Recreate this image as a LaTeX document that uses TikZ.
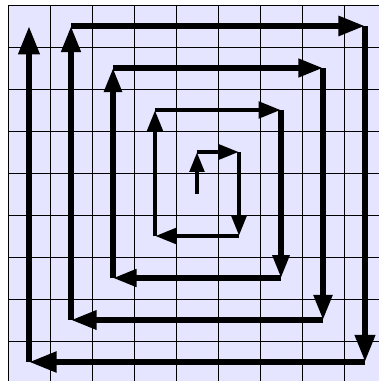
\documentclass[tikz,border=0pt]{standalone}
\usepackage{tikz}
\usetikzlibrary{arrows.meta}

\begin{document}
\begin{tikzpicture}[
    cellfill/.style={fill=blue!10},
    gridline/.style={draw=black, line width=0.5pt},
    turn/.style={-{Triangle[length=0pt 4.5, width=0pt 3.2]}}
]
\useasboundingbox (-0.19,0.048) rectangle (8.83,9.119);

% Board
\fill[cellfill] (0,0) rectangle (9,9);
\draw[gridline] (0,0) grid (9,9);

% Corners of the spiral
\foreach \px/\py [count=\i from 0] in {4.5/4.5, 4.5/5.5, 5.5/5.5, 5.5/3.5, 3.5/3.5, 3.5/6.5,
    6.5/6.5, 6.5/2.5, 2.5/2.5, 2.5/7.5, 7.5/7.5, 7.5/1.5, 1.5/1.5, 1.5/8.5,
    8.5/8.5, 8.5/0.5, 0.5/0.5, 0.5/8.5}
  \coordinate (p\i) at (\px,\py);

% Spiral, one arrow per side, a little wider each time
\foreach \i in {1,...,17} {
  \pgfmathtruncatemacro{\j}{\i-1}
  \draw[turn, line width={2.9pt+0.08pt*\i}] (p\j) -- (p\i);
}

\end{tikzpicture}
\end{document}
